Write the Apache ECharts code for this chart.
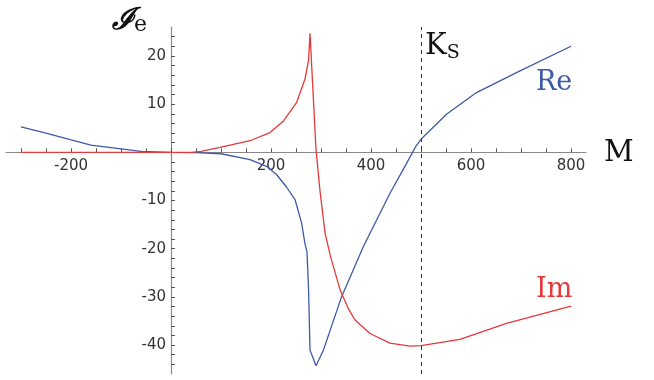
<!DOCTYPE html>
<html>
<head>
<meta charset="utf-8">
<script src="https://cdn.jsdelivr.net/npm/echarts@6/dist/echarts.min.js"></script>
<style>
  html, body { margin: 0; padding: 0; background: #fff; }
  #chart { width: 654px; height: 380px; }
</style>
</head>
<body>
<div id="chart"></div>
<script>
// values, [M, value]
var reData = [
  [-300, 5.3], [-250, 4.0], [-200, 2.6], [-160, 1.5], [-100, 0.7], [-60, 0.2],
  [0, 0], [50, -0.05], [100, -0.3], [158, -1.5], [191, -2.9], [211, -4.6],
  [231, -7.2], [248, -9.8], [261, -14.6], [268, -19], [272, -20.7], [275, -28],
  [278, -41], [290, -44.3], [305, -41], [341, -30], [385, -19.5], [438, -8.5],
  [470, -2.5], [490, 1.3], [500, 2.7], [551, 7.9], [611, 12.4], [698, 16.9], [800, 22]
];
var imData = [
  [-300, 0], [0, 0], [40, 0], [60, 0.2], [98, 1.0], [158, 2.4], [198, 4.1],
  [225, 6.5], [251, 10.3], [268, 15.2], [275, 19], [278, 24.7], [290, 0.6],
  [298, -8], [308, -16.7], [319, -21.6], [338, -28.5], [355, -32.5], [368, -34.8],
  [398, -37.6], [438, -39.6], [478, -40.2], [500, -40.1], [578, -38.8],
  [671, -35.5], [800, -31.9]
];
var ksValue = 500;
var xLabels = [-200, 200, 400, 600, 800];
var yLabels = [-40, -30, -20, -10, 10, 20];
var xTicks = [];
for (var t = -300; t <= 800; t += 50) xTicks.push(t);
var yTicks = [];
for (var u = -44; u <= 24; u += 2) yTicks.push(u);

var blue = '#3c5aa8';
var red = '#e5383b';

var W = 654, H = 380;
var g = { left: 6, right: 68, top: 27, bottom: 6 };
var xMin = -330, xMax = 830, yMin = -46, yMax = 26;
// the axes cross at the origin: shift them there from the grid edges
var plotW = W - g.left - g.right, plotH = H - g.top - g.bottom;
var xShift = (0 - xMin) / (xMax - xMin) * plotW;
var yShift = (0 - yMin) / (yMax - yMin) * plotH;

var chart = echarts.init(document.getElementById('chart'));
chart.setOption({
  animation: false,
  grid: { left: g.left, right: g.right, top: g.top, bottom: g.bottom, containLabel: false, outerBoundsMode: 'none' },
  xAxis: {
    type: 'value',
    min: xMin,
    max: xMax,
    offset: -yShift,
    axisLine: { onZero: false, lineStyle: { color: '#8a8a8a', width: 1.2 } },
    axisTick: { inside: true, length: 4, customValues: xTicks, lineStyle: { color: '#555' } },
    axisLabel: {
      show: true, customValues: xLabels, margin: 6,
      color: '#333', fontSize: 15, fontFamily: 'DejaVu Sans'
    },
    splitLine: { show: false }
  },
  yAxis: {
    type: 'value',
    min: yMin,
    max: yMax,
    offset: -xShift,
    axisLine: { onZero: false, lineStyle: { color: '#8a8a8a', width: 1.2 } },
    axisTick: { inside: true, length: 4, customValues: yTicks, lineStyle: { color: '#555' } },
    axisLabel: {
      show: true, customValues: yLabels, margin: 5,
      color: '#333', fontSize: 15, fontFamily: 'DejaVu Sans'
    },
    splitLine: { show: false }
  },
  series: [
    {
      name: 'Re', type: 'line', data: reData, showSymbol: false,
      lineStyle: { color: blue, width: 1.3 }, itemStyle: { color: blue },
      markLine: {
        silent: true, symbol: 'none',
        label: { show: false },
        lineStyle: { color: '#333', type: [4, 4], width: 1 },
        data: [{ xAxis: ksValue }]
      }
    },
    {
      name: 'Im', type: 'line', data: imData, showSymbol: false,
      lineStyle: { color: red, width: 1.3 }, itemStyle: { color: red }
    }
  ],
  graphic: [
    {
      type: 'text', left: 112, top: 6,
      style: {
        text: '{a|ℐ}{b|e}',
        rich: {
          a: { fontSize: 30, fontFamily: 'DejaVu Serif', fontStyle: 'italic', fontWeight: 'bold', fill: '#111' },
          b: { fontSize: 22, fontFamily: 'DejaVu Serif', fill: '#111', padding: [8, 0, 0, 0] }
        }
      }
    },
    {
      type: 'text', left: 604, top: 139,
      style: { text: 'M', fontSize: 29, fontFamily: 'DejaVu Serif', fill: '#111' }
    },
    {
      type: 'text', left: 425, top: 32,
      style: {
        text: '{a|K}{b|S}',
        rich: {
          a: { fontSize: 29, fontFamily: 'DejaVu Serif', fill: '#111' },
          b: { fontSize: 19, fontFamily: 'DejaVu Serif', fill: '#111', padding: [14, 0, 0, 0] }
        }
      }
    },
    {
      type: 'text', left: 536, top: 69,
      style: { text: 'Re', fontSize: 27, fontFamily: 'DejaVu Serif', fill: blue }
    },
    {
      type: 'text', left: 536, top: 276,
      style: { text: 'Im', fontSize: 27, fontFamily: 'DejaVu Serif', fill: red }
    }
  ]
});
</script>
</body>
</html>
